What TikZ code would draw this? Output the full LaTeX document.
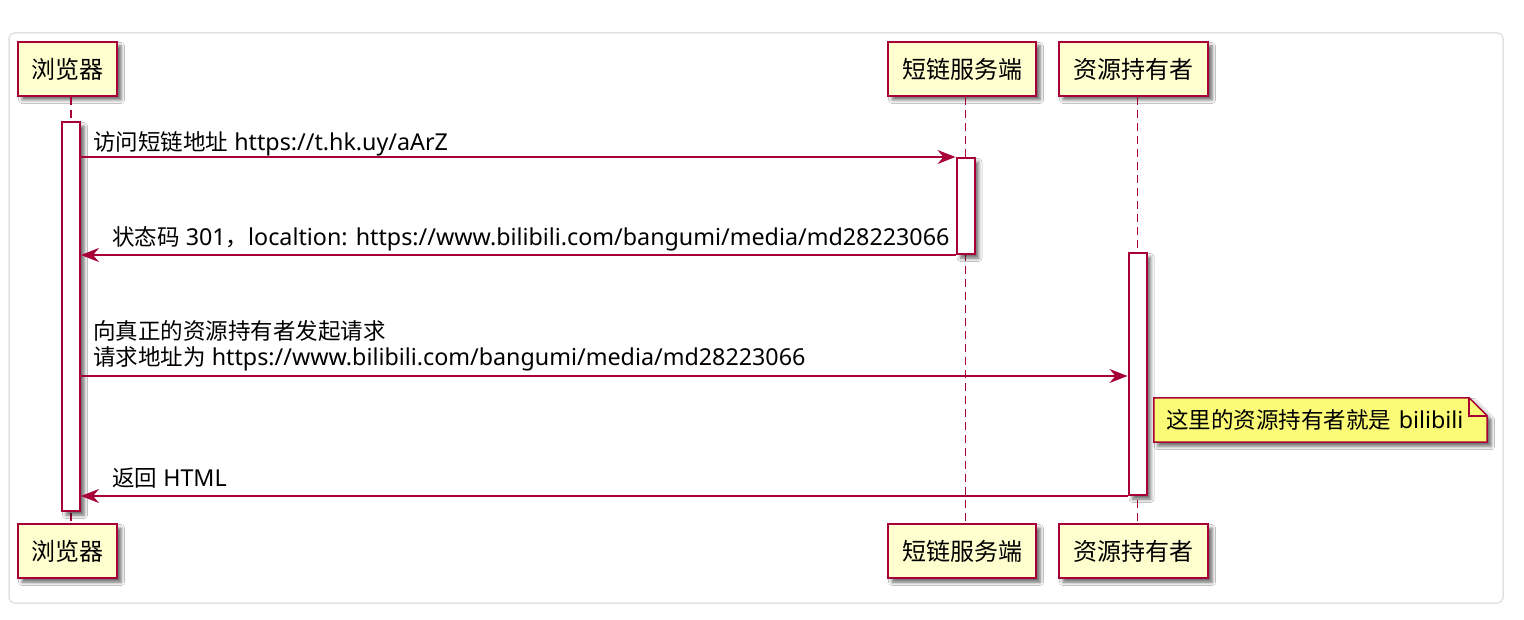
\documentclass[tikz,border=0pt]{standalone}
\usepackage{fontspec}
\setmainfont{Noto Sans}[Scale=1.035]
\newfontfamily\cj{Noto Sans CJK SC}
\usetikzlibrary{arrows.meta,shadows.blur}
\definecolor{pborder}{HTML}{A80036}
\definecolor{pfill}{HTML}{FEFECE}
\definecolor{nfill}{HTML}{FBFB77}
\definecolor{frame}{HTML}{E2E2E2}
\begin{document}
\begin{tikzpicture}[x=1pt,y=-1pt,
  shad/.style={blur shadow={shadow xshift=4pt, shadow yshift=-4pt, shadow blur radius=3.5pt, shadow opacity=60}},
  part/.style={draw=pborder, fill=pfill, line width=2pt, minimum height=54pt, inner sep=0pt,
    font=\fontsize{24pt}{28pt}\selectfont\cj, shad},
  life/.style={draw=pborder, line width=1.8pt, dash pattern=on 8pt off 5pt},
  act/.style={draw=pborder, fill=white, line width=2pt, minimum width=18pt, inner sep=0pt, shad},
  msg/.style={draw=pborder, line width=1.6pt, -{Stealth[length=18pt,width=14pt,inset=6pt]}},
  lbl/.style={inner sep=0pt, font=\fontsize{22.5pt}{26pt}\selectfont, align=left},
  notebox/.style={inner xsep=12pt, inner ysep=0pt, minimum height=44pt, text width=309pt, align=left,
    font=\fontsize{22.5pt}{26pt}\selectfont}]
\useasboundingbox[fill=white] (0,0) rectangle (1524,620);
\draw[frame, line width=1.5pt, rounded corners=6pt] (9,33) rectangle (1503,603);

% lifeline x positions
\coordinate (xB) at (71,0);
\coordinate (xS) at (965.5,0);
\coordinate (xR) at (1137.5,0);

% participants
\node[part, minimum width=99pt]  (pB)  at (67.5,69)  {浏览器};
\node[part, minimum width=148pt] (pS)  at (962,69)   {短链服务端};
\node[part, minimum width=149pt] (pR)  at (1133.5,69) {资源持有者};
\node[part, minimum width=99pt]  (pBb) at (67.5,551)  {浏览器};
\node[part, minimum width=148pt] (pSb) at (962,551)   {短链服务端};
\node[part, minimum width=149pt] (pRb) at (1133.5,551) {资源持有者};

% lifelines
\draw[life] (pB.south -| xB) -- (pBb.north -| xB);
\draw[life] (pS.south -| xS) -- (pSb.north -| xS);
\draw[life] (pR.south -| xR) -- (pRb.north -| xR);

% activations
\node[act, minimum height=389pt] (actB) at (71,316.5) {};
\node[act, minimum height=96pt]  (actS) at (965.5,206) {};
\node[act, minimum height=242pt] (actR) at (1137.5,374) {};

% message 1
\draw[msg] (actB.east |- actS.north west) -- (actS.north west);
\node[lbl, anchor=base west] (l1) at (93,150.5) {{\cj 访问短链地址} https://t.hk.uy/aArZ};

% message 2
\draw[msg] (actS.south west) -- (actB.east |- actS.south west);
\node[lbl, anchor=base west] (l2) at (112,245.5) {{\cj 状态码} 301{\cj ，}localtion: https://www.bilibili.com/bangumi/media/md28223066};

% message 3
\coordinate (m3) at (0,376);
\draw[msg] (actB.east |- m3) -- (actR.west |- m3);
\node[lbl, anchor=base west] (l3) at (93,366) {{\cj 向真正的资源持有者发起请求}\\{\cj 请求地址为} https://www.bilibili.com/bangumi/media/md28223066};

% note
\path (1320.5,420) node[notebox] (note) {};
\draw[draw=pborder, fill=nfill, line width=1.5pt, shad]
  (note.north west) -- ([xshift=-18pt]note.north east) -- ([yshift=-18pt]note.north east)
  -- (note.south east) -- (note.south west) -- cycle;
\draw[draw=pborder, line width=1.5pt]
  ([xshift=-18pt]note.north east) |- ([yshift=-18pt]note.north east);
\node[notebox] (notetext) at (note.center) {{\cj 这里的资源持有者就是} bilibili};

% message 4
\draw[msg] (actR.south west) -- (actB.east |- actR.south west);
\node[lbl, anchor=base west] (l4) at (112,486) {{\cj 返回} HTML};
\end{tikzpicture}
\end{document}
